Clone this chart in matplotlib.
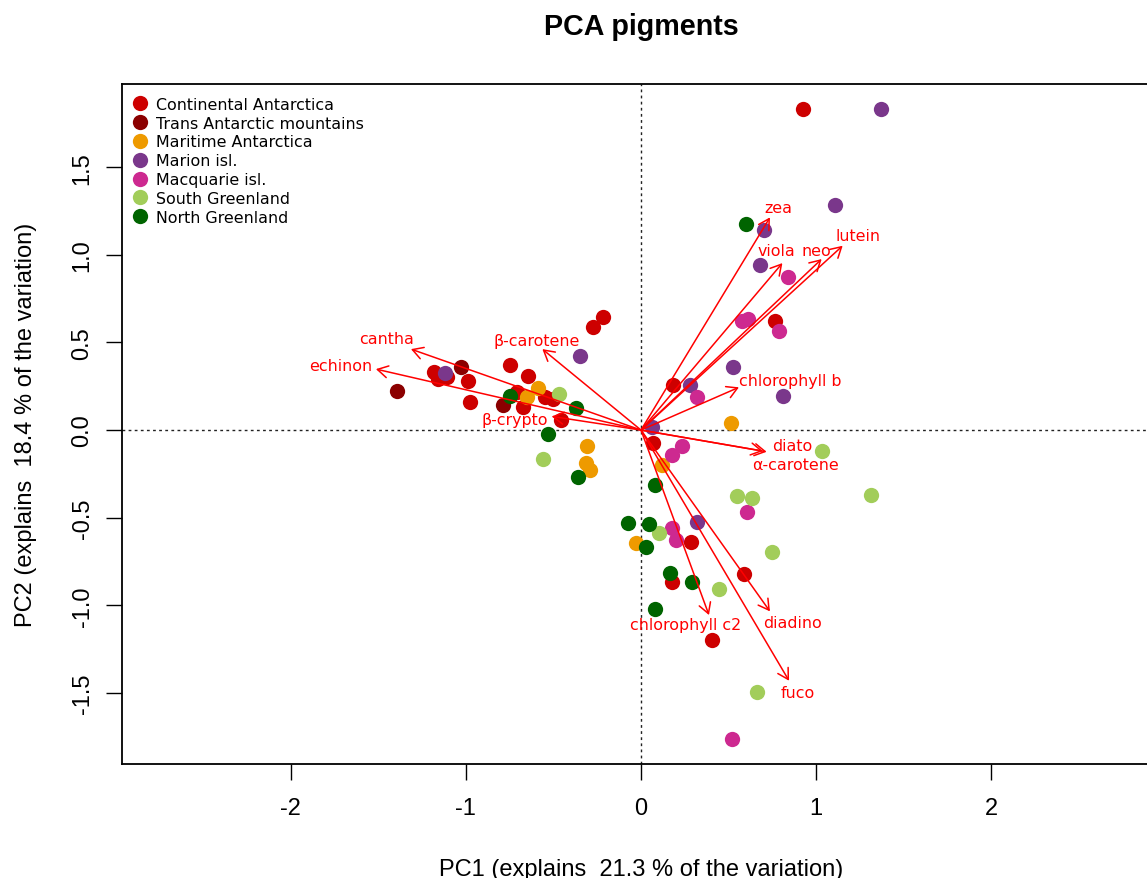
import matplotlib
matplotlib.use("Agg")
import matplotlib.pyplot as plt
from matplotlib.lines import Line2D

plt.rcParams['axes.unicode_minus'] = False

# PCA scores per sampling region (PC1, PC2)
cont_x = [0.925, -0.217, -0.274, -0.748, -0.645, -1.182, -1.159, -1.107, -0.987, -0.976, -0.708,
          -0.674, -0.548, -0.502, -0.457, 0.765, 0.183, 0.068, 0.285, 0.177, 0.588, 0.405]
cont_y = [1.832, 0.645, 0.588, 0.371, 0.308, 0.331, 0.291, 0.303, 0.280, 0.160, 0.217,
          0.131, 0.188, 0.177, 0.057, 0.622, 0.257, -0.074, -0.639, -0.868, -0.822, -1.199]
trans_x = [-1.393, -1.027, -0.788]
trans_y = [0.223, 0.360, 0.143]
mari_x = [-0.588, -0.651, -0.308, -0.314, -0.291, 0.514, 0.120, -0.029]
mari_y = [0.240, 0.188, -0.091, -0.188, -0.228, 0.040, -0.200, -0.645]
marion_x = [1.370, 1.107, 0.702, 0.679, 0.525, 0.280, 0.811, -0.348, -1.119, 0.063, 0.320]
marion_y = [1.832, 1.284, 1.142, 0.942, 0.360, 0.257, 0.194, 0.422, 0.325, 0.017, -0.525]
macq_x = [0.839, 0.576, 0.611, 0.788, 0.320, 0.234, 0.177, 0.605, 0.177, 0.200, 0.519]
macq_y = [0.873, 0.622, 0.634, 0.565, 0.188, -0.091, -0.143, -0.468, -0.559, -0.628, -1.764]
sgr_x = [-0.468, -0.559, 1.033, 1.313, 0.548, 0.634, 0.103, 0.748, 0.445, 0.662]
sgr_y = [0.205, -0.166, -0.120, -0.371, -0.377, -0.388, -0.588, -0.696, -0.908, -1.495]
ngr_x = [-0.748, -0.371, -0.531, -0.360, 0.599, 0.080, -0.074, 0.046, 0.029, 0.166, 0.291, 0.080]
ngr_y = [0.194, 0.126, -0.023, -0.268, 1.176, -0.314, -0.531, -0.537, -0.668, -0.816, -0.868, -1.022]

groups = ["Continental Antarctica", "Trans Antarctic mountains", "Maritime Antarctica",
          "Marion isl.", "Macquarie isl.", "South Greenland", "North Greenland"]
colors = ["#CD0000", "#8B0000", "#EE9A00", "#7A378B", "#CD2990", "#A2CD5A", "#006400"]
xs = [cont_x, trans_x, mari_x, marion_x, macq_x, sgr_x, ngr_x]
ys = [cont_y, trans_y, mari_y, marion_y, macq_y, sgr_y, ngr_y]

# pigment loadings (arrow tips) and label positions
pigments = ["cantha", "echinon", "β-carotene", "β-crypto", "zea", "viola", "neo", "lutein",
            "chlorophyll b", "diato", "α-carotene", "chlorophyll c2", "diadino", "fuco"]
load_x = [-1.313, -1.513, -0.563, -0.510, 0.736, 0.807, 1.031, 1.151,
          0.559, 0.717, 0.696, 0.388, 0.736, 0.845]
load_y = [0.462, 0.348, 0.462, 0.078, 1.214, 0.953, 0.976, 1.052,
          0.244, -0.124, -0.120, -1.056, -1.035, -1.431]
lab_x = [-1.452, -1.716, -0.594, -0.719, 0.784, 0.775, 1.003, 1.240,
         0.850, 0.864, 0.879, 0.257, 0.864, 0.893]
lab_y = [0.523, 0.367, 0.514, 0.059, 1.271, 1.027, 1.027, 1.109,
         0.281, -0.086, -0.194, -1.107, -1.098, -1.497]

W, H = 1147, 879
fig = plt.figure(figsize=(W / 100, H / 100), dpi=100)
ax = fig.add_axes([122 / W, (H - 765) / H, (1160 - 122) / W, (765 - 84.5) / H])

ax.axhline(0, color="#222222", lw=1.0, ls=(0, (2, 2.4)), zorder=1)
ax.axvline(0, color="#222222", lw=1.0, ls=(0, (2, 2.4)), zorder=1)

for gx, gy, c in zip(xs, ys, colors):
    ax.scatter(gx, gy, s=121, color=c, linewidths=0, zorder=2)

for tx, ty in zip(load_x, load_y):
    ax.annotate("", xy=(tx, ty), xytext=(0, 0),
                arrowprops=dict(arrowstyle="->,head_length=0.75,head_width=0.43",
                                mutation_scale=10, color="red", lw=1.1,
                                shrinkA=0, shrinkB=0), zorder=3)
for name, lx, ly in zip(pigments, lab_x, lab_y):
    ax.text(lx, ly, name, color="red", fontsize=11.4, family="DejaVu Sans",
            ha="center", va="center", zorder=4)

ax.set_xlim(-2.962, 2.962)
ax.set_ylim(-1.906, 1.978)
ax.set_xticks([-2, -1, 0, 1, 2])
ax.set_xticklabels(["-2", "-1", "0", "1", "2"])
ax.set_yticks([-1.5, -1.0, -0.5, 0.0, 0.5, 1.0, 1.5])
ax.set_yticklabels(["-1.5", "-1.0", "-0.5", "0.0", "0.5", "1.0", "1.5"],
                   rotation=90, va="center")
for lab in ax.get_xticklabels() + ax.get_yticklabels():
    lab.set_family("Liberation Sans")
ax.tick_params(axis="both", length=11.5, width=1.0, labelsize=17, direction="out")
ax.tick_params(axis="x", pad=12)
ax.tick_params(axis="y", pad=9)
for sp in ax.spines.values():
    sp.set_linewidth(1.3)

handles = [Line2D([], [], ls="none", marker="o", markersize=11, color=c, markeredgewidth=0)
           for c in colors]
ax.legend(handles, groups, loc="upper left", bbox_to_anchor=(0.0037, 0.9897),
          borderaxespad=0, borderpad=0.4, frameon=False, handlelength=1.0,
          handletextpad=0.5, labelspacing=0.24,
          prop={"family": "DejaVu Sans", "size": 11.4})

fig.text(641 / W, 1 - 35 / H, "PCA pigments", ha="center", va="baseline",
         fontsize=20.6, fontweight="bold", family="Liberation Sans")
fig.text(641 / W, 3 / H, "PC1 (explains  21.3 % of the variation)", ha="center",
         va="baseline", fontsize=17, family="Liberation Sans")
fig.text(26 / W, 1 - 425 / H, "PC2 (explains  18.4 % of the variation)", ha="center",
         va="center", rotation=90, fontsize=17, family="Liberation Sans")

fig.savefig("out.png", dpi=100)
